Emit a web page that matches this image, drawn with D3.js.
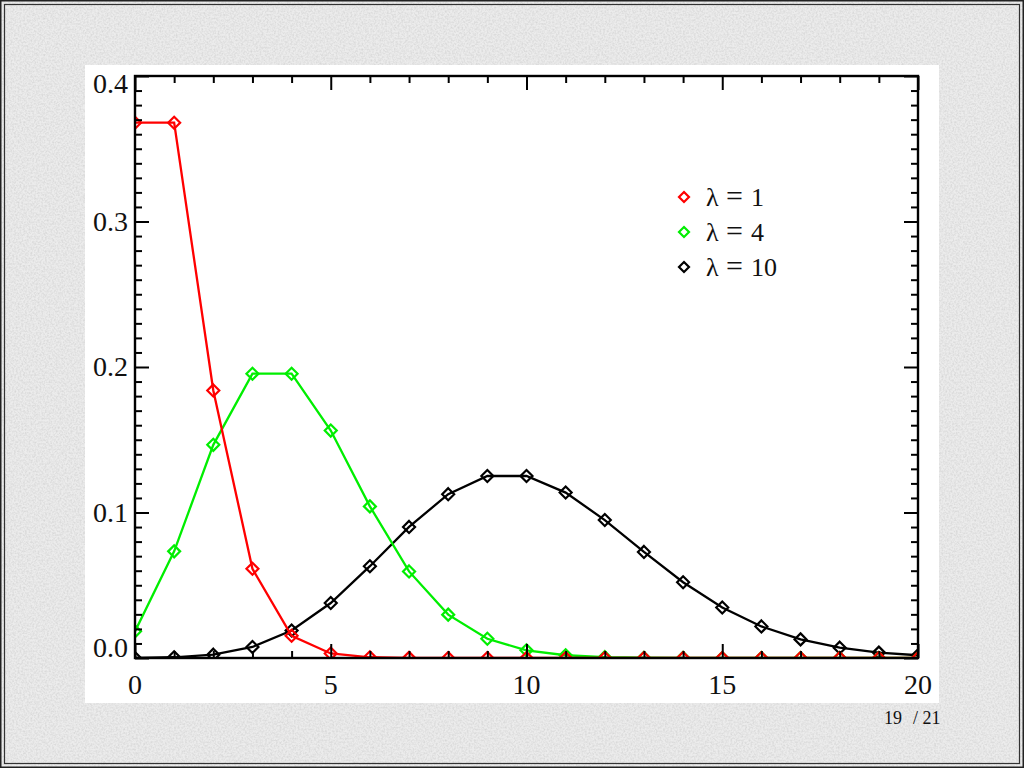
<!DOCTYPE html>
<html>
<head>
<meta charset="utf-8">
<script src="https://cdn.jsdelivr.net/npm/d3@7"></script>
<style>
html,body{margin:0;padding:0;background:#e9e9e9;}
svg{display:block;}
</style>
</head>
<body>
<svg id="chart" width="1024" height="768"></svg>
<script>
// ---- data ----
const kValues = [0,1,2,3,4,5,6,7,8,9,10,11,12,13,14,15,16,17,18,19,20];
const lambda1 = [0.3679,0.3679,0.1839,0.0613,0.0153,0.0031,0.0005,0.0001,0,0,0,0,0,0,0,0,0,0,0,0,0];
const lambda4 = [0.0183,0.0733,0.1465,0.1954,0.1954,0.1563,0.1042,0.0595,0.0298,0.0132,0.0053,0.0019,0.0006,0.0002,0.0001,0,0,0,0,0,0];
const lambda10 = [0.0000,0.0005,0.0023,0.0076,0.0189,0.0378,0.0631,0.0901,0.1126,0.1251,0.1251,0.1137,0.0948,0.0729,0.0521,0.0347,0.0217,0.0128,0.0071,0.0037,0.0019];
const seriesLambda = ["1","4","10"];
const seriesColors = ["#ff0000","#00ee00","#000000"];
const xTicks = [0,5,10,15,20];
const yTicks = [0.0,0.1,0.2,0.3,0.4];
const pageNum = "19";
const pageTotal = "/ 21";

const svg = d3.select("#chart");
const W = 1024, H = 768;

// paper texture background
const defs = svg.append("defs");
const f = defs.append("filter").attr("id","paper").attr("x",0).attr("y",0).attr("width","100%").attr("height","100%");
f.append("feTurbulence").attr("type","fractalNoise").attr("baseFrequency",0.55).attr("numOctaves",2).attr("seed",3).attr("result","n");
f.append("feColorMatrix").attr("in","n").attr("type","matrix")
 .attr("values","0 0 0 0 0.55  0 0 0 0 0.55  0 0 0 0 0.55  0 0 0 -1.6 1.05").attr("result","m");
f.append("feComposite").attr("in","m").attr("in2","SourceGraphic").attr("operator","in");

svg.append("rect").attr("width",W).attr("height",H).attr("fill","#ececec");
svg.append("rect").attr("width",W).attr("height",H).attr("fill","#ececec").attr("filter","url(#paper)").attr("opacity",0.6);

// double border
svg.append("rect").attr("x",0.75).attr("y",0.75).attr("width",W-1.5).attr("height",H-1.5)
  .attr("fill","none").attr("stroke","#222").attr("stroke-width",1.5);
svg.append("rect").attr("x",4.5).attr("y",4.5).attr("width",W-9).attr("height",H-9)
  .attr("fill","none").attr("stroke","#333").attr("stroke-width",1.2);

// white panel
svg.append("rect").attr("x",85).attr("y",65).attr("width",854).attr("height",638).attr("fill","#ffffff");

// plot area
const L = 135, R = 918, T = 76, B = 658;
const x = d3.scaleLinear().domain([0,20]).range([L,R]);
const y = d3.scaleLinear().domain([0,0.4]).range([B,T]);

defs.append("clipPath").attr("id","clip").append("rect")
  .attr("x",L).attr("y",T).attr("width",R-L).attr("height",B-T);

const series = [lambda10, lambda4, lambda1];
const sColors = [seriesColors[2], seriesColors[1], seriesColors[0]];
const plot = svg.append("g").attr("clip-path","url(#clip)");
const line = d3.line().x((d,i)=>x(kValues[i])).y(d=>y(d));
const diamond = (cx,cy,r)=>`M${cx},${cy-r}L${cx+r},${cy}L${cx},${cy+r}L${cx-r},${cy}Z`;

series.forEach((vals,si)=>{
  plot.append("path").datum(vals).attr("d",line)
    .attr("fill","none").attr("stroke",sColors[si]).attr("stroke-width",2.3);
  plot.selectAll(null).data(vals).enter().append("path")
    .attr("d",(d,i)=>diamond(x(kValues[i]),y(d),6))
    .attr("fill","none").attr("stroke",sColors[si]).attr("stroke-width",2.2);
});

// frame and ticks
const fontFam = "'Liberation Serif','Times New Roman',serif";
const axG = svg.append("g");
const xAxB = d3.axisBottom(x).tickValues(d3.range(0,21)).tickSizeInner(-7).tickSizeOuter(0).tickFormat("");
const xAxT = d3.axisTop(x).tickValues(d3.range(0,21)).tickSizeInner(-7).tickSizeOuter(0).tickFormat("");
const yMinor = d3.range(0,41).map(v=>v/100);
const yAxL = d3.axisLeft(y).tickValues(yMinor).tickSizeInner(-7).tickSizeOuter(0).tickFormat("");
const yAxR = d3.axisRight(y).tickValues(yMinor).tickSizeInner(-7).tickSizeOuter(0).tickFormat("");
const gB = axG.append("g").attr("transform",`translate(0,${B})`).call(xAxB);
const gT = axG.append("g").attr("transform",`translate(0,${T})`).call(xAxT);
const gL = axG.append("g").attr("transform",`translate(${L},0)`).call(yAxL);
const gR = axG.append("g").attr("transform",`translate(${R},0)`).call(yAxR);
[gB,gT].forEach((g,j)=>g.selectAll(".tick").filter(d=>d%5===0).select("line").attr("y2", j===0?-14:14));
[gL,gR].forEach((g,j)=>g.selectAll(".tick").filter(d=>Math.round(d*100)%10===0).select("line").attr("x2", j===0?14:-14));
axG.selectAll(".domain").remove();
axG.selectAll("line").attr("stroke","#000").attr("stroke-width",2);
axG.append("rect").attr("x",L).attr("y",T).attr("width",R-L).attr("height",B-T)
  .attr("fill","none").attr("stroke","#000").attr("stroke-width",2.4);

// tick labels
svg.selectAll(".xl").data(xTicks).enter().append("text")
  .attr("x",d=>x(d)).attr("y",694).attr("text-anchor","middle")
  .attr("font-family",fontFam).attr("font-size",28).attr("fill","#111").text(d=>d);
svg.selectAll(".yl").data(yTicks).enter().append("text")
  .attr("x",128).attr("y",(d,i)=> i===0 ? y(d)-1 : (i===yTicks.length-1 ? y(d)+17 : y(d)+9))
  .attr("text-anchor","end")
  .attr("font-family",fontFam).attr("font-size",28).attr("fill","#111").text(d=>d.toFixed(1));

// legend
const legG = svg.append("g");
seriesLambda.forEach((v,i)=>{
  const cy = 197 + i*35;
  legG.append("path").attr("d",diamond(684,cy,5)).attr("fill","none")
    .attr("stroke",seriesColors[i]).attr("stroke-width",2.2);
  const t = legG.append("text").attr("y",cy+9).attr("font-family",fontFam)
    .attr("font-size",26).attr("fill","#111");
  t.append("tspan").attr("x",706).text("\u03bb");
  t.append("tspan").attr("x",726).attr("font-size",30).text("=");
  t.append("tspan").attr("x",751).text(v);
});

// page number
const pg = svg.append("text").attr("y",724).attr("font-family",fontFam)
  .attr("font-size",18).attr("fill","#111");
pg.append("tspan").attr("x",884).text(pageNum);
pg.append("tspan").attr("x",913).text(pageTotal);
</script>
</body>
</html>
